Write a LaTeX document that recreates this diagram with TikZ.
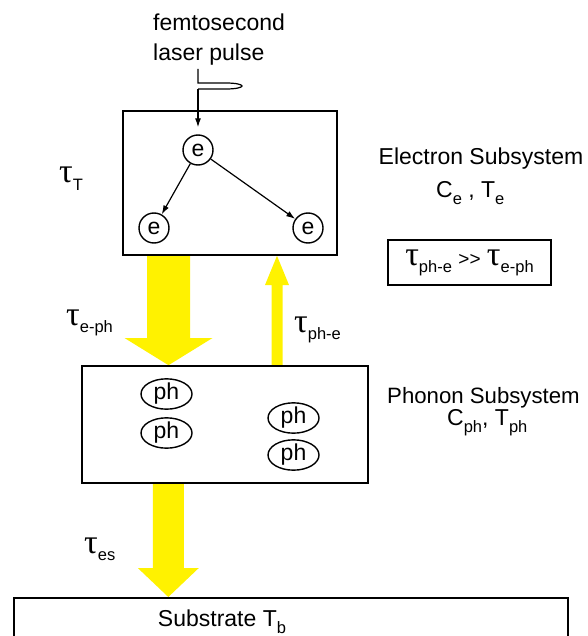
\documentclass[tikz,border=0pt]{standalone}
\usepackage{fontspec}
\setmainfont{Liberation Sans}
\newfontfamily\taufont{Liberation Serif}
\usetikzlibrary{arrows.meta,shapes.geometric,backgrounds}
\newcommand{\tu}{{\taufont\fontsize{34}{34}\selectfont τ}}
\newcommand{\lsub}[1]{\raisebox{-7pt}{\fontsize{16.5}{16.5}\selectfont #1}}
\newcommand{\yarrow}[6]{% x, from anchor, y of head base, to anchor, shaft width, head width
  \fill[yarr] ({#1-#5/2},0 |- #2) -- ({#1-#5/2},#3) -- ({#1-#6/2},#3) -- (#1,0 |- #4)
    -- ({#1+#6/2},#3) -- ({#1+#5/2},#3) -- ({#1+#5/2},0 |- #2) -- cycle;}
\begin{document}
\begin{tikzpicture}[x=1pt,y=-1pt,font=\fontsize{23}{27}\selectfont,
  box/.style={draw,line width=1.6pt,inner sep=0pt},
  elec/.style={circle,draw,line width=1.4pt,minimum size=30pt,inner sep=0pt},
  phon/.style={ellipse,draw,line width=1.4pt,minimum width=51pt,minimum height=25pt,inner sep=0pt},
  lbl/.style={inner sep=0pt},
  earrow/.style={line width=1.2pt,-{Latex[length=9pt,width=6pt]}},
  yarr/.style={fill=yellow}]
\useasboundingbox (0,0) rectangle (587,636);
\clip (0,0) rectangle (587,636);

% boxes
\node[box,minimum width=214pt,minimum height=144pt] (E) at (230,183) {};
\node[box,minimum width=286pt,minimum height=117pt] (P) at (225,424.5) {};
\node[box,minimum width=554pt,minimum height=100pt,anchor=north west] (S) at (13,597) {};
\node[lbl] (st) at (222,622) {Substrate T\lsub{b}};

% yellow energy-transfer arrows
\begin{scope}[on background layer]
\yarrow{168.5}{E.south}{338}{P.north}{43}{88}
\yarrow{277}{P.north}{285}{E.south}{11}{24}
\yarrow{168.3}{P.south}{568}{S.north}{31}{61}
\end{scope}

% laser pulse
\node[lbl,anchor=base west] (fs) at (153,31) {femtosecond};
\node[lbl,anchor=base west] (lp) at (153,61) {laser pulse};
\coordinate (l0) at (198,69);
\coordinate (l1) at (198,89);
\draw[line width=1.2pt] (l0) -- (198,83) -- (226,83)
  .. controls (236,83) and (242,84.5) .. (242,86)
  .. controls (242,87.5) and (236,89) .. (226,89) -- (l1);

% electrons
\node[elec] (e1) at (198,150) {e};
\node[elec] (e2) at (154,228) {e};
\node[elec] (e3) at (308,228) {e};
\draw[earrow,shorten >=7pt] (l1) -- (e1);
\draw[earrow] (e1) -- (e2);
\draw[earrow] (e1) -- (e3);

% phonons
\node[phon] (p1) at (166.5,394) {ph};
\node[phon] (p2) at (166.5,433) {ph};
\node[phon] (p3) at (293.5,418) {ph};
\node[phon] (p4) at (293.5,455) {ph};

% labels
\node[lbl,anchor=base] (es) at (481,165) {Electron Subsystem};
\node[lbl,anchor=base west] (ec) at (436,197) {C\lsub{e} , T\lsub{e}};
\node[lbl,anchor=base west,font=\fontsize{22.2}{26}\selectfont] (ps) at (387,403) {Phonon Subsystem};
\node[lbl,anchor=base west] (pc) at (447,425) {C\lsub{ph}, T\lsub{ph}};
\node[box,line width=1.4pt,minimum width=163pt,minimum height=45pt] (rel) at (469.5,262.5)
  {\tu\lsub{ph-e} {\fontsize{19}{19}\selectfont\hbox{>}\hbox{>}} \tu\lsub{e-ph}};

\node[lbl,anchor=base west] (tT) at (59,183) {\tu\lsub{T}};
\node[lbl,anchor=base west] (tep) at (66,325) {\tu\lsub{e-ph}};
\node[lbl,anchor=base west] (tpe) at (294,332) {\tu\lsub{ph-e}};
\node[lbl,anchor=base west] (tes) at (84,553) {\tu\lsub{es}};
\end{tikzpicture}
\end{document}
